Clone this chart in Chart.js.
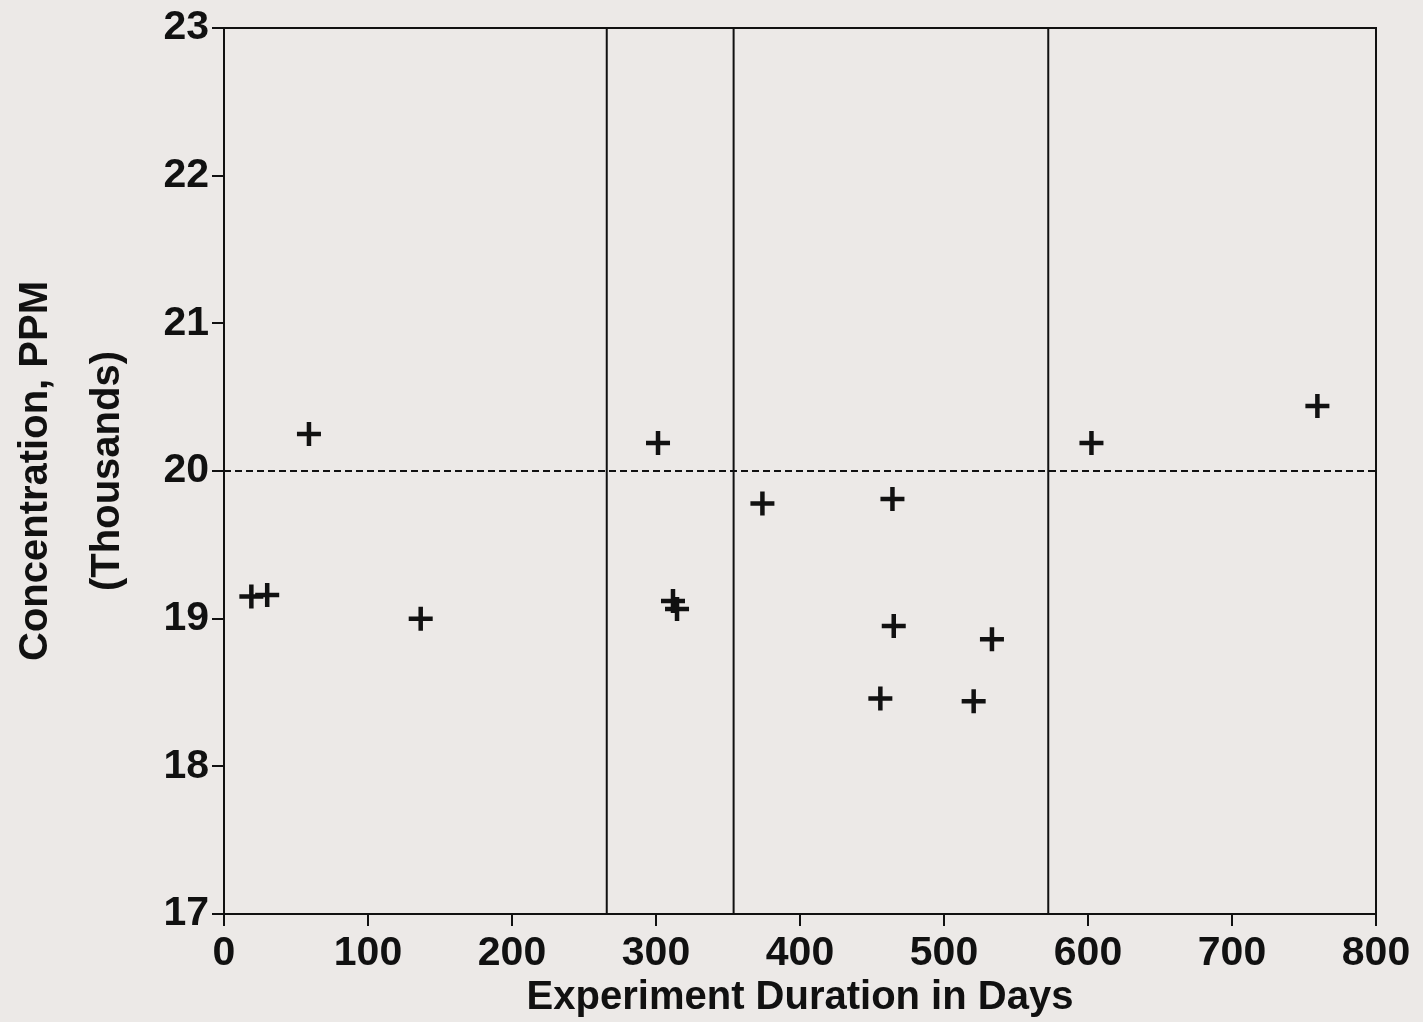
<!DOCTYPE html>
<html>
<head>
<meta charset="utf-8">
<script src="https://cdn.jsdelivr.net/npm/chart.js@4/dist/chart.umd.min.js"></script>
<style>
  html, body { margin: 0; padding: 0; background: #ece9e7; }
  #wrap { width: 1423px; height: 1022px; position: relative; }
</style>
</head>
<body>
<div id="wrap"><canvas id="c"></canvas></div>
<script>
// 測定データ（日数, 濃度[千ppm]）
const days = [19, 30, 59, 136.6, 301.4, 311.8, 314.6, 373.9, 464.2, 465.1, 455.8, 520.6, 533.3, 602.4, 759.3];
const conc = [19.15, 19.16, 20.25, 19.0, 20.19, 19.12, 19.065, 19.78, 19.81, 18.95, 18.46, 18.44, 18.86, 20.19, 20.44];

// 区切り線（日数）と基準濃度
const dividers = [265.8, 353.9, 572.4];
const reference = 20;

const xTicks = [0, 100, 200, 300, 400, 500, 600, 700, 800];
const yTicks = [17, 18, 19, 20, 21, 22, 23];

const FONT = "'Liberation Sans', Arial, Helvetica, sans-serif";

const datasets = [];

// 縦の区切り線
dividers.forEach(d => {
    datasets.push({
        type: 'line',
        data: [{ x: d, y: 17 }, { x: d, y: 23 }],
        borderColor: '#111',
        borderWidth: 2,
        pointRadius: 0,
        fill: false
    });
});

// 基準線（破線）
datasets.push({
    type: 'line',
    data: [{ x: 0, y: reference }, { x: 800, y: reference }],
    borderColor: '#111',
    borderWidth: 2,
    borderDash: [7, 4],
    pointRadius: 0,
    fill: false
});

// 測定点
datasets.push({
    type: 'scatter',
    data: days.map((d, i) => ({ x: d, y: conc[i] })),
    pointStyle: 'cross',
    pointRadius: 12,
    pointBorderWidth: 4.5,
    borderColor: '#111',
    backgroundColor: '#111'
});

// 背景と外枠
const frame = {
    id: 'frame',
    beforeDraw(chart) {
        const ctx = chart.ctx;
        ctx.save();
        ctx.fillStyle = '#ece9e7';
        ctx.fillRect(0, 0, chart.width, chart.height);
        ctx.restore();
    },
    afterDraw(chart) {
        const a = chart.chartArea;
        const ctx = chart.ctx;
        ctx.save();
        ctx.strokeStyle = '#111';
        ctx.lineWidth = 2;
        ctx.strokeRect(a.left, a.top, a.right - a.left, a.bottom - a.top);
        ctx.restore();
    }
};

new Chart(document.getElementById('c'), {
    data: { datasets: datasets },
    options: {
        responsive: true,
        maintainAspectRatio: false,
        animation: false,
        layout: { padding: { top: 28, right: 47, left: 0, bottom: 0 } },
        plugins: {
            legend: { display: false },
            tooltip: { enabled: false }
        },
        scales: {
            x: {
                type: 'linear',
                min: 0,
                max: 800,
                afterBuildTicks: s => { s.ticks = xTicks.map(v => ({ value: v })); },
                afterFit: s => { s.height = 108; },
                grid: { drawOnChartArea: false, drawTicks: true, tickLength: 12, color: '#111', lineWidth: 2 },
                border: { display: true, color: '#111', width: 2 },
                ticks: { color: '#111', font: { family: FONT, size: 41, weight: 'bold' }, padding: 3, maxRotation: 0 },
                title: {
                    display: true,
                    text: 'Experiment Duration in Days',
                    color: '#111',
                    font: { family: FONT, size: 40, weight: 'bold' },
                    padding: { top: 0, bottom: 0 }
                }
            },
            y: {
                type: 'linear',
                min: 17,
                max: 23,
                afterBuildTicks: s => { s.ticks = yTicks.map(v => ({ value: v })); },
                afterFit: s => { s.width = 224; },
                grid: { drawOnChartArea: false, drawTicks: true, tickLength: 12, color: '#111', lineWidth: 2 },
                border: { display: true, color: '#111', width: 2 },
                ticks: { color: '#111', font: { family: FONT, size: 41, weight: 'bold' }, padding: 3 },
                title: {
                    display: true,
                    text: ['Concentration, PPM', '(Thousands)'],
                    color: '#111',
                    font: { family: FONT, size: 40, weight: 'bold', lineHeight: 1.8 },
                    padding: { top: 0, bottom: 0 }
                }
            }
        }
    },
    plugins: [frame]
});
</script>
</body>
</html>
